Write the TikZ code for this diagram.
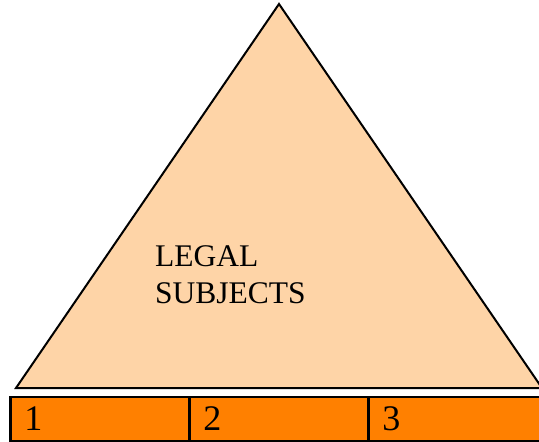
\documentclass[tikz,border=0pt]{standalone}
\usepackage{fontspec}
\setmainfont{Liberation Serif}
\usepackage{tikz}
\usetikzlibrary{positioning}
\definecolor{lgpeach}{RGB}{254,212,167}
\definecolor{lgorange}{RGB}{255,128,0}

\begin{document}
\begin{tikzpicture}[
    x=1pt, y=-1pt,
    pyramid/.style={draw=black, line width=2pt, fill=lgpeach, line join=miter},
    segment/.style={rectangle, draw=black, line width=2.5pt, fill=lgorange, anchor=north west,
        text width=151pt, inner xsep=14pt, inner ysep=0pt, minimum height=44pt, align=left,
        font=\fontsize{36}{40}\selectfont},
    title/.style={align=left, inner sep=0pt, font=\fontsize{31.5}{37}\selectfont}
]
\useasboundingbox (0,0) rectangle (539,442);
\clip (0,0) rectangle (539,442);

% Triangle
\coordinate (apex) at (279,4);
\coordinate (left) at (16,388);
\coordinate (right) at (542,388);
\draw[pyramid] (apex) -- (right) -- (left) -- cycle;

% Label
\node (subjects) [title, anchor=base west] at (155,303) {LEGAL\\SUBJECTS};

% Bottom row
\node (seg1) [segment] at (9,395.75) {1};
\node (seg2) [segment, right=-2.5pt of seg1] {2};
\node (seg3) [segment, right=-2.5pt of seg2] {3};
\end{tikzpicture}
\end{document}
